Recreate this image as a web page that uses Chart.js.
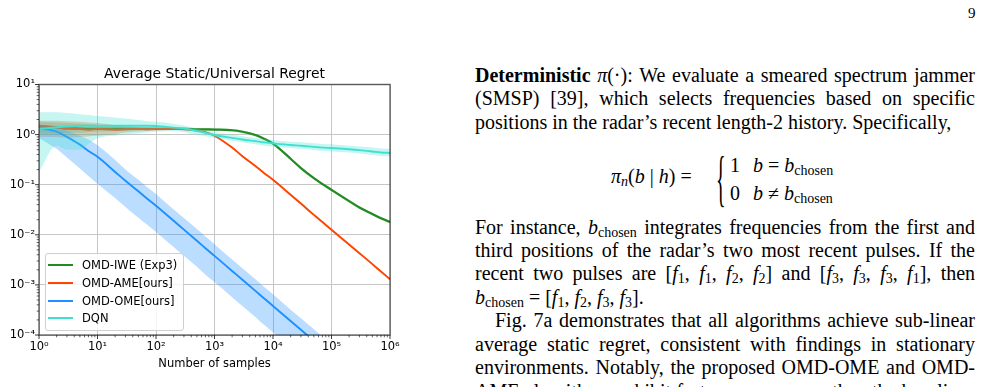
<!DOCTYPE html>
<html><head><meta charset="utf-8">
<script src="https://cdn.jsdelivr.net/npm/chart.js@4.4.1/dist/chart.umd.min.js"></script>
<style>
html,body{margin:0;padding:0;background:#fff;}
body{width:986px;height:387px;overflow:hidden;position:relative;}
#wrap{position:absolute;left:0;top:0;width:420px;height:387px;}
#legend{position:absolute;left:45px;top:253px;width:137px;height:76px;border:1px solid #cfcfcf;border-radius:3px;background:rgba(255,255,255,0.8);font-family:'DejaVu Sans',sans-serif;font-size:11.5px;color:#000;}
.row{position:absolute;left:0;height:14px;line-height:14px;white-space:nowrap}
.sw{position:absolute;left:2px;top:6px;width:25px;height:2px}
.lab{position:absolute;left:36px;top:0}
.tx{position:absolute;left:475px;width:500px;font-family:'Liberation Serif','Times New Roman',serif;font-size:20px;line-height:24px;color:#000;white-space:nowrap}
.j{text-align:justify;text-align-last:justify;white-space:normal}
sub{font-size:70%;vertical-align:-0.22em;line-height:0;font-style:normal}
.m{font-style:italic}
.eq{position:absolute;font-family:'Liberation Serif','Times New Roman',serif;font-size:20px;line-height:24px;white-space:nowrap;color:#000}
</style></head>
<body>
<div id="wrap"><canvas id="c" width="420" height="387"></canvas></div>
<div id="legend"></div>

<div style="position:absolute;left:968px;top:4px;font-family:'Liberation Serif',serif;font-size:15px;line-height:18px">9</div>

<div class="tx j" style="top:63px"><b>Deterministic</b> <span class="m">π</span>(·): We evaluate a smeared spectrum jammer</div>
<div class="tx j" style="top:86.4px">(SMSP) [39], which selects frequencies based on specific</div>
<div class="tx" style="top:109.8px">positions in the radar’s recent length-2 history. Specifically,</div>

<div class="eq" style="left:611px;top:164px"><span class="m">π</span><sub class="m" style="font-style:italic">n</sub>(<span class="m">b</span> | <span class="m">h</span>) =</div>
<div class="eq" style="left:716px;top:146px;font-size:20px;line-height:20px;transform:scale(1.0,3.1);transform-origin:0 0">{</div>
<div class="eq" style="left:730px;top:153px">1</div>
<div class="eq" style="left:753px;top:153px"><span class="m">b</span> = <span class="m">b</span><sub>chosen</sub></div>
<div class="eq" style="left:730px;top:181px">0</div>
<div class="eq" style="left:753px;top:181px"><span class="m">b</span> ≠ <span class="m">b</span><sub>chosen</sub></div>

<div class="tx j" style="top:214.5px">For instance, <span class="m">b</span><sub>chosen</sub> integrates frequencies from the first and</div>
<div class="tx j" style="top:237.9px">third positions of the radar’s two most recent pulses. If the</div>
<div class="tx j" style="top:261.3px">recent two pulses are [<span class="m">f</span><sub>1</sub>, <span class="m">f</span><sub>1</sub>, <span class="m">f</span><sub>2</sub>, <span class="m">f</span><sub>2</sub>] and [<span class="m">f</span><sub>3</sub>, <span class="m">f</span><sub>3</sub>, <span class="m">f</span><sub>3</sub>, <span class="m">f</span><sub>1</sub>], then</div>
<div class="tx" style="top:284.7px"><span class="m">b</span><sub>chosen</sub> = [<span class="m">f</span><sub>1</sub>, <span class="m">f</span><sub>2</sub>, <span class="m">f</span><sub>3</sub>, <span class="m">f</span><sub>3</sub>].</div>
<div class="tx j" style="top:308.1px;left:495px;width:480px">Fig. 7a demonstrates that all algorithms achieve sub-linear</div>
<div class="tx j" style="top:331.5px">average static regret, consistent with findings in stationary</div>
<div class="tx j" style="top:354.9px">environments. Notably, the proposed OMD-OME and OMD-</div>
<div class="tx j" style="top:378.6px">AME algorithms exhibit faster convergence than the baselines</div>

<script>
// ---- data ----
const samples = [1, 2, 3, 5, 7, 10, 20, 30, 50, 70, 100, 200, 300, 500, 700, 1000, 2000, 3000, 5000, 7000, 10000, 20000, 30000, 50000, 70000, 100000, 200000, 300000, 500000, 700000, 1000000];

const iweMean  = [1.45, 1.4, 1.35, 1.32, 1.3, 1.3, 1.3, 1.3, 1.3, 1.3, 1.3, 1.3, 1.3, 1.28, 1.27, 1.26, 1.22, 1.14, 0.98, 0.83, 0.66, 0.33, 0.215, 0.135, 0.103, 0.079, 0.047, 0.035, 0.026, 0.0215, 0.018];
const iweUpper = [1.8, 1.75, 1.7, 1.65, 1.6, 1.55, 1.5, 1.45, 1.42, 1.4, 1.38, 1.37, 1.37, 1.35, 1.34, 1.33, 1.29, 1.21, 1.04, 0.88, 0.7, 0.35, 0.228, 0.143, 0.109, 0.084, 0.05, 0.037, 0.0275, 0.0228, 0.019];
const iweLower = [1.05, 1.05, 1.08, 1.1, 1.12, 1.15, 1.18, 1.2, 1.22, 1.22, 1.23, 1.23, 1.23, 1.21, 1.2, 1.19, 1.15, 1.07, 0.92, 0.78, 0.62, 0.31, 0.202, 0.127, 0.097, 0.074, 0.044, 0.033, 0.0245, 0.0202, 0.017];

const ameMean  = [1.5, 1.4, 1.3, 1.3, 1.25, 1.3, 1.25, 1.28, 1.3, 1.28, 1.3, 1.3, 1.28, 1.2, 1.12, 0.95, 0.55, 0.37, 0.235, 0.172, 0.125, 0.063, 0.042, 0.025, 0.018, 0.0126, 0.0064, 0.0043, 0.0026, 0.00185, 0.0013];
const ameUpper = [1.9, 1.9, 1.85, 1.8, 1.75, 1.7, 1.55, 1.45, 1.4, 1.38, 1.37, 1.36, 1.33, 1.25, 1.17, 0.99, 0.57, 0.385, 0.245, 0.179, 0.13, 0.0655, 0.0437, 0.026, 0.0187, 0.0131, 0.00666, 0.00447, 0.0027, 0.00192, 0.00135];
const ameLower = [0.9, 0.9, 0.88, 0.9, 0.92, 0.95, 1.02, 1.1, 1.15, 1.18, 1.2, 1.24, 1.23, 1.15, 1.07, 0.91, 0.53, 0.355, 0.225, 0.165, 0.12, 0.0605, 0.0403, 0.024, 0.0173, 0.0121, 0.00614, 0.00413, 0.0025, 0.00178, 0.00125];

const omeMean  = [1.35, 1.15, 0.9, 0.63, 0.47, 0.36, 0.18, 0.12, 0.074, 0.053, 0.038, 0.019, 0.0127, 0.0076, 0.0054, 0.0038, 0.0019, 0.00127, 0.00076, 0.00054, 0.00038, 0.00019, 0.000127, 0.000076, 0.000054, 0.000038, 0.000019, 0.0000127, 0.0000076, 0.0000054, 0.0000038];
const omeUpper = [1.5, 1.4, 1.2, 0.95, 0.8, 0.61, 0.31, 0.2, 0.125, 0.09, 0.065, 0.032, 0.0216, 0.013, 0.0092, 0.0065, 0.0032, 0.00216, 0.0013, 0.00092, 0.00065, 0.00032, 0.000216, 0.00013, 0.000092, 0.000065, 0.000032, 0.0000216, 0.000013, 0.0000092, 0.0000065];
const omeLower = [0.85, 0.52, 0.35, 0.21, 0.15, 0.105, 0.054, 0.036, 0.022, 0.016, 0.0114, 0.0057, 0.0038, 0.0023, 0.0016, 0.00114, 0.00057, 0.00038, 0.00023, 0.00016, 0.000114, 0.000057, 0.000038, 0.000023, 0.000016, 0.0000114, 0.0000057, 0.0000038, 0.0000023, 0.0000016, 0.00000114];

const dqnMean  = [1.3, 1.4, 1.45, 1.5, 1.5, 1.5, 1.5, 1.5, 1.5, 1.5, 1.48, 1.38, 1.32, 1.18, 1.08, 0.98, 0.86, 0.8, 0.74, 0.7, 0.67, 0.62, 0.6, 0.57, 0.55, 0.54, 0.51, 0.49, 0.46, 0.44, 0.43];
const dqnUpper = [2.8, 2.8, 2.7, 2.55, 2.45, 2.35, 2.2, 2.1, 1.95, 1.85, 1.8, 1.65, 1.5, 1.32, 1.2, 1.12, 1.0, 0.93, 0.86, 0.82, 0.78, 0.72, 0.7, 0.67, 0.65, 0.64, 0.6, 0.58, 0.55, 0.53, 0.52];
const dqnLower = [0.18, 0.6, 0.5, 0.5, 0.65, 0.85, 0.95, 1.0, 1.05, 1.1, 1.15, 1.18, 1.12, 1.0, 0.93, 0.86, 0.75, 0.7, 0.64, 0.6, 0.58, 0.54, 0.52, 0.49, 0.47, 0.46, 0.44, 0.42, 0.39, 0.375, 0.365];

const seriesNames  = ['OMD-IWE (Exp3)', 'OMD-AME[ours]', 'OMD-OME[ours]', 'DQN'];
const seriesColors = ['#228b22', '#ff4500', '#1e90ff', '#40e0d0'];

const xTickValues = [1, 10, 100, 1000, 10000, 100000, 1000000];
const xTickLabels = ['10⁰', '10¹', '10²', '10³', '10⁴', '10⁵', '10⁶'];
const yTickValues = [0.0001, 0.001, 0.01, 0.1, 1, 10];
const yTickLabels = ['10⁻⁴', '10⁻³', '10⁻²', '10⁻¹', '10⁰', '10¹'];

const chartTitle = 'Average Static/Universal Regret';
const xTitle = 'Number of samples';

// ---- helpers ----
const pts = arr => samples.map((x, i) => ({x: x, y: arr[i]}));
function rgba(hex, a) {
  const n = parseInt(hex.slice(1), 16);
  return 'rgba(' + ((n >> 16) & 255) + ',' + ((n >> 8) & 255) + ',' + (n & 255) + ',' + a + ')';
}
function isMajor(v, majors) {
  return majors.some(m => Math.abs(Math.log10(v) - Math.log10(m)) < 1e-6);
}
function labelFor(v, vals, labels) {
  const i = vals.findIndex(m => Math.abs(Math.log10(v) - Math.log10(m)) < 1e-6);
  return i >= 0 ? labels[i] : '';
}
function buildTicks(majors) {
  const t = [];
  for (let i = 0; i < majors.length - 1; i++) {
    for (let k = 1; k <= 9; k++) t.push({value: k * majors[i]});
  }
  t.push({value: majors[majors.length - 1]});
  return t;
}

const means  = [iweMean, ameMean, omeMean, dqnMean];
const uppers = [iweUpper, ameUpper, omeUpper, dqnUpper];
const lowers = [iweLower, ameLower, omeLower, dqnLower];

const datasets = [];
means.forEach((m, i) => {
  const lineOrder = 100 - i * 10;
  const bandOrder = lineOrder - 5;
  datasets.push({
    label: seriesNames[i], data: pts(m), borderColor: seriesColors[i],
    borderWidth: i === 0 ? 2.2 : 1.9, pointRadius: 0, fill: false,
    cubicInterpolationMode: 'monotone', order: lineOrder
  });
  datasets.push({
    label: '', data: pts(uppers[i]), borderColor: 'transparent', borderWidth: 0,
    pointRadius: 0, fill: '+1', backgroundColor: rgba(seriesColors[i], i === 0 ? 0.25 : 0.3),
    cubicInterpolationMode: 'monotone', order: bandOrder
  });
  datasets.push({
    label: '', data: pts(lowers[i]), borderColor: 'transparent', borderWidth: 0,
    pointRadius: 0, fill: false, cubicInterpolationMode: 'monotone', order: bandOrder
  });
});

const axesDeco = {
  id: 'axesDeco',
  afterDatasetsDraw(chart) {
    const {ctx, chartArea: a, scales: {x, y}} = chart;
    ctx.save();
    ctx.strokeStyle = '#222';
    x.ticks.forEach(t => {
      const px = x.getPixelForValue(t.value);
      const mj = isMajor(t.value, xTickValues);
      ctx.lineWidth = mj ? 0.9 : 0.7;
      ctx.beginPath(); ctx.moveTo(px, a.bottom); ctx.lineTo(px, a.bottom + (mj ? 4 : 2.3)); ctx.stroke();
    });
    y.ticks.forEach(t => {
      const py = y.getPixelForValue(t.value);
      const mj = isMajor(t.value, yTickValues);
      ctx.lineWidth = mj ? 0.9 : 0.7;
      ctx.beginPath(); ctx.moveTo(a.left, py); ctx.lineTo(a.left - (mj ? 4 : 2.3), py); ctx.stroke();
    });
    ctx.strokeStyle = 'rgba(0,0,0,0.55)';
    ctx.lineWidth = 1.5;
    ctx.strokeRect(a.left, a.top, a.right - a.left, a.bottom - a.top);
    ctx.restore();
  }
};

const tickFont = {family: 'DejaVu Sans', size: 11.5};

new Chart(document.getElementById('c'), {
  type: 'line',
  data: {datasets: datasets},
  options: {
    responsive: false, animation: false, devicePixelRatio: 1,
    layout: {padding: {left: 0, right: 30, top: 0, bottom: 0}},
    plugins: {legend: {display: false}, tooltip: {enabled: false}, title: {display: false}},
    scales: {
      x: {
        type: 'logarithmic', min: 1, max: 1000000, position: 'bottom',
        afterBuildTicks: s => { s.ticks = buildTicks(xTickValues); },
        afterFit: s => { s.height = 52; },
        ticks: {autoSkip: false, maxRotation: 0, minRotation: 0, padding: 5, color: '#000', font: tickFont,
          callback: v => labelFor(v, xTickValues, xTickLabels)},
        grid: {drawTicks: false, lineWidth: 1,
          color: c => (c.tick && isMajor(c.tick.value, xTickValues)) ? '#c6c6c6' : 'rgba(0,0,0,0)'},
        border: {display: false},
        title: {display: true, text: xTitle, color: '#000', font: tickFont, padding: {top: 0, bottom: 16}}
      },
      xTop: {
        type: 'logarithmic', min: 1, max: 1000000, position: 'top',
        afterFit: s => { s.height = 84.5; },
        ticks: {display: false}, grid: {display: false}, border: {display: false},
        title: {display: true, text: chartTitle, color: '#000',
          font: {family: 'DejaVu Sans', size: 13.9, weight: 'normal'}, padding: {top: 65.7, bottom: 0}}
      },
      y: {
        type: 'logarithmic', min: 0.0001, max: 10, position: 'left',
        afterBuildTicks: s => { s.ticks = buildTicks(yTickValues); },
        afterFit: s => { s.width = 39; },
        ticks: {autoSkip: false, padding: 4, color: '#000', font: tickFont,
          callback: v => labelFor(v, yTickValues, yTickLabels)},
        grid: {drawTicks: false, lineWidth: 1,
          color: c => (c.tick && isMajor(c.tick.value, yTickValues)) ? '#c6c6c6' : 'rgba(0,0,0,0)'},
        border: {display: false}
      }
    }
  },
  plugins: [axesDeco]
});

// HTML legend built from the series arrays
const lg = document.getElementById('legend');
const rowTops = [4, 22, 40, 57];
seriesNames.forEach((n, i) => {
  const r = document.createElement('div');
  r.className = 'row'; r.style.top = rowTops[i] + 'px';
  r.innerHTML = '<div class="sw" style="background:' + seriesColors[i] + '"></div><span class="lab">' + n + '</span>';
  lg.appendChild(r);
});
</script>
</body></html>
